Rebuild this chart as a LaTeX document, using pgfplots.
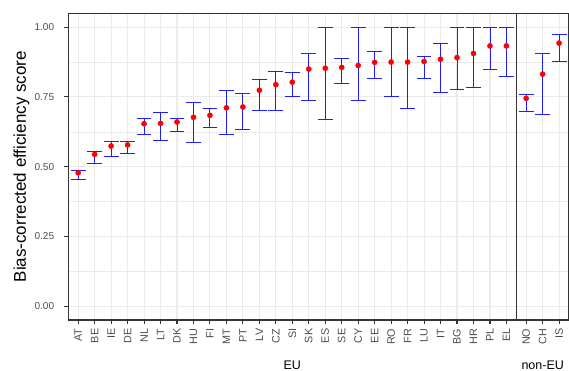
\documentclass[border=0pt]{standalone}
\usepackage{pgfplots}
\pgfplotsset{compat=1.18}
\usepackage{pgfplotstable}
\usepackage{fontspec}
\setmainfont{Liberation Sans}
\definecolor{grid92}{RGB}{235,235,235}
\definecolor{gray20}{RGB}{51,51,51}
\definecolor{gray30}{RGB}{77,77,77}
\definecolor{ebar}{RGB}{30,30,255}
\definecolor{pt}{RGB}{255,0,0}

\pgfplotstableread{
x name y lo hi
0 AT 0.478 0.454 0.488
1 BE 0.544 0.512 0.556
2 IE 0.574 0.535 0.589
3 DE 0.578 0.546 0.592
4 NL 0.654 0.617 0.673
5 LT 0.655 0.593 0.695
6 DK 0.660 0.627 0.674
7 HU 0.677 0.588 0.731
8 FI 0.684 0.640 0.709
9 MT 0.711 0.615 0.774
10 PT 0.714 0.632 0.762
11 LV 0.774 0.701 0.814
12 CZ 0.794 0.701 0.842
13 SI 0.803 0.750 0.837
14 SK 0.850 0.736 0.905
15 ES 0.853 0.669 1.000
16 SE 0.856 0.798 0.889
17 CY 0.863 0.738 1.000
18 EE 0.874 0.817 0.912
19 RO 0.875 0.750 1.000
20 FR 0.875 0.709 1.000
21 LU 0.877 0.817 0.895
22 IT 0.885 0.767 0.941
23 BG 0.891 0.778 1.000
24 HR 0.906 0.784 1.000
25 PL 0.933 0.849 1.000
26 EL 0.933 0.823 1.000
}\eu
\pgfplotstableread{
x name y lo hi
0 NO 0.745 0.697 0.760
1 CH 0.832 0.686 0.905
2 IS 0.943 0.876 0.975
}\noneu

\pgfplotsset{
  panel/.style={
    scale only axis, height=306.7bp,
    ymin=-0.05, ymax=1.05, xmin=-0.6,
    ytick={0,0.25,0.5,0.75,1},
    minor ytick={0.125,0.375,0.625,0.875},
    grid=both,
    major grid style={grid92, line width=1.1bp},
    minor grid style={grid92, line width=0.55bp},
    axis line style={gray20, line width=1.1bp},
    tick align=outside, major tick length=4bp, minor tick length=0pt,
    tick style={gray20, line width=1.1bp},
    tick pos=left,
    tick label style={text=gray30},
    xticklabel style={font=\fontsize{10.8bp}{12bp}\selectfont, rotate=90, anchor=east, inner sep=1.5bp, xshift=-3bp},
    yticklabel style={font=\fontsize{10bp}{12bp}\selectfont, inner sep=1.5bp, xshift=-8.5bp},
  },
  stems/.style={
    draw=ebar, line width=0.9bp,
    quiver={u=0, v=\thisrow{hi}-\thisrow{lo}},
  },
  caps/.style={
    color=ebar, only marks, mark=-, mark size=7.4bp,
    mark options={draw=ebar, line width=0.9bp},
  },
  pts/.style={
    color=pt, only marks, mark=*, mark size=2.6bp, mark options={draw=pt, fill=pt},
  },
}

\begin{document}
\begin{tikzpicture}
\useasboundingbox (0,0) rectangle (569bp,371bp);
\begin{axis}[panel, at={(68.3bp,51bp)}, anchor=south west,
  width=448bp, xmax=26.6,
  xtick={0,...,26}, xticklabels from table={\eu}{name},
  yticklabels={0.00,0.25,0.50,0.75,1.00}]
\addplot[stems] table[x=x, y=lo] {\eu};
\addplot[caps] table[x=x, y=lo] {\eu};
\addplot[caps] table[x=x, y=hi] {\eu};
\addplot[pts] table[x=x, y=y] {\eu};
\end{axis}
\begin{axis}[panel, at={(516.3bp,51bp)}, anchor=south west,
  width=52.7bp, xmax=2.6,
  xtick={0,1,2}, xticklabels from table={\noneu}{name},
  yticklabels={}, ytick style={draw=none}]
\addplot[stems] table[x=x, y=lo] {\noneu};
\addplot[caps] table[x=x, y=lo] {\noneu};
\addplot[caps] table[x=x, y=hi] {\noneu};
\addplot[pts] table[x=x, y=y] {\noneu};
\end{axis}
\node[rotate=90, font=\fontsize{17bp}{18bp}\selectfont] at (21.5bp,204.3bp) {Bias-corrected efficiency score};
\node[font=\fontsize{12.5bp}{14bp}\selectfont, anchor=base] at (292.3bp,2bp) {EU};
\node[font=\fontsize{12.5bp}{14bp}\selectfont, anchor=base] at (542.7bp,2bp) {non-EU};
\end{tikzpicture}
\end{document}
